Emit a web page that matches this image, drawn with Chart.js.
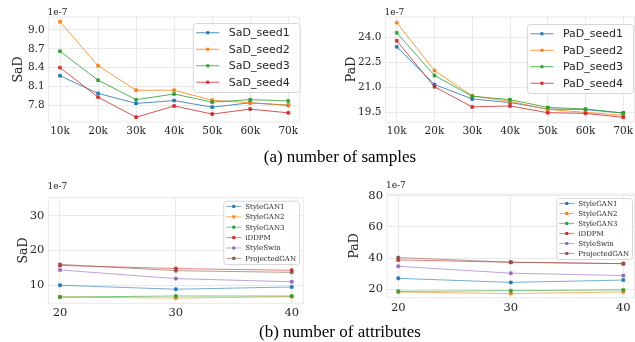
<!DOCTYPE html>
<html>
<head>
<meta charset="utf-8">
<script src="https://cdn.jsdelivr.net/npm/chart.js@4.4.1/dist/chart.umd.min.js"></script>
<style>
    body { margin: 0; width: 635px; height: 342px; overflow: hidden; background: #fff; position: relative; }
    canvas { position: absolute; }
    .caption { position: absolute; left: 0; width: 680px; text-align: center; font: 17px 'Liberation Serif', serif; line-height: 20px; color: #000; }
</style>
</head>
<body>
<canvas id="sadSamples" width="318" height="145" style="left:0;top:0"></canvas>
<canvas id="padSamples" width="340" height="145" style="left:318px;top:0"></canvas>
<canvas id="sadAttrs" width="318" height="170" style="left:0;top:160px"></canvas>
<canvas id="padAttrs" width="340" height="170" style="left:318px;top:160px"></canvas>
<div class="caption" style="top:147px">(a) number of samples</div>
<div class="caption" style="top:322px">(b) number of attributes</div>
<script>
'use strict';

// (a) number of samples, in thousands
const samples = [10, 20, 30, 40, 50, 60, 70];
const sadSeed1 = [8.27, 7.99, 7.83, 7.875, 7.77, 7.84, 7.80];
const sadSeed2 = [9.13, 8.43, 8.04, 8.04, 7.88, 7.84, 7.80];
const sadSeed3 = [8.66, 8.20, 7.89, 7.98, 7.85, 7.89, 7.87];
const sadSeed4 = [8.40, 7.93, 7.61, 7.79, 7.66, 7.74, 7.68];
const padSeed1 = [23.46, 21.18, 20.31, 20.09, 19.70, 19.67, 19.46];
const padSeed2 = [24.91, 22.02, 20.49, 20.17, 19.68, 19.50, 19.32];
const padSeed3 = [24.30, 21.72, 20.47, 20.27, 19.80, 19.70, 19.46];
const padSeed4 = [23.82, 21.04, 19.83, 19.89, 19.48, 19.44, 19.20];
const sadSampleTicks = [7.8, 8.1, 8.4, 8.7, 9.0];
const padSampleTicks = [19.5, 21.0, 22.5, 24.0];

// (b) number of attributes
const attrs = [20, 30, 40];
const models = ['StyleGAN1', 'StyleGAN2', 'StyleGAN3', 'iDDPM', 'StyleSwin', 'ProjectedGAN'];
const sadStyleGAN1 = [10.0, 8.85, 9.5];
const sadStyleGAN2 = [6.6, 6.3, 6.7];
const sadStyleGAN3 = [6.6, 6.9, 6.9];
const sadIDDPM = [15.7, 14.8, 14.3];
const sadStyleSwin = [14.4, 11.9, 11.0];
const sadProjectedGAN = [16.0, 14.2, 13.7];
const padStyleGAN1 = [27.0, 24.4, 25.9];
const padStyleGAN2 = [18.3, 17.2, 18.3];
const padStyleGAN3 = [18.7, 19.1, 19.6];
const padIDDPM = [38.8, 37.3, 36.4];
const padStyleSwin = [34.7, 30.3, 28.8];
const padProjectedGAN = [40.3, 37.3, 36.4];
const sadAttrTicks = [10, 20, 30];
const padAttrTicks = [20, 40, 60, 80];

const colors = ['#1f77b4', '#ff7f0e', '#2ca02c', '#d62728', '#9467bd', '#8c564b'];
const gridColor = '#e9e9e9';

const alpha = function (hex, a) {
    const n = parseInt(hex.slice(1), 16);
    return `rgba(${n >> 16}, ${(n >> 8) & 255}, ${n & 255}, ${a})`;
};

const makeSets = function (xs, series, names, lineAlpha) {
    return series.map((ys, i) => ({
        label: names[i],
        data: ys.map((y, j) => ({x: xs[j], y: y})),
        borderColor: alpha(colors[i], lineAlpha),
        backgroundColor: colors[i],
        pointBackgroundColor: colors[i],
        pointBorderColor: colors[i],
        borderWidth: 1,
        pointStyle: 'rect',
        pointRadius: 2.1,
        pointBorderWidth: 0.5,
        order: -i
    }));
};

// frame, offset text and the boxed legend inside the plot
const decor = {
    id: 'decor',
    beforeDatasetsDraw(chart, args, opts) {
        const ctx = chart.ctx, a = chart.chartArea;
        ctx.save();
        ctx.strokeStyle = gridColor;
        ctx.lineWidth = 1;
        ctx.strokeRect(a.left, a.top, a.right - a.left, a.bottom - a.top);
        ctx.fillStyle = '#222';
        ctx.font = '9px "DejaVu Serif"';
        ctx.textBaseline = 'middle';
        ctx.fillText('1e-7', a.left - 1, a.top - opts.offsetY);
        ctx.restore();
    },
    afterDraw(chart, args, opts) {
        const ctx = chart.ctx, a = chart.chartArea;
        const lg = opts.legend;
        const sets = chart.data.datasets;
        ctx.save();
        ctx.font = lg.font;
        let tw = 0;
        sets.forEach(ds => { tw = Math.max(tw, ctx.measureText(ds.label).width); });
        const w = lg.padL + lg.lineLen + lg.gap + tw + lg.padR;
        const h = lg.padT * 2 + sets.length * lg.rowH;
        const x = a.right - lg.right - w, y = a.top + lg.top;
        ctx.beginPath();
        ctx.roundRect(x + 0.5, y + 0.5, w, h, 3);
        ctx.fillStyle = 'rgba(255,255,255,0.85)';
        ctx.fill();
        ctx.strokeStyle = '#d6d6d6';
        ctx.lineWidth = 1;
        ctx.stroke();
        ctx.textBaseline = 'middle';
        sets.forEach((ds, i) => {
            const cy = y + lg.padT + lg.rowH * (i + 0.5);
            const lx = x + lg.padL;
            ctx.strokeStyle = ds.borderColor;
            ctx.beginPath();
            ctx.moveTo(lx, cy);
            ctx.lineTo(lx + lg.lineLen, cy);
            ctx.stroke();
            ctx.fillStyle = ds.pointBackgroundColor;
            ctx.fillRect(lx + lg.lineLen / 2 - 1.5, cy - 1.5, 3, 3);
            ctx.fillStyle = '#262626';
            ctx.fillText(ds.label, lx + lg.lineLen + lg.gap, cy + 0.5);
        });
        ctx.restore();
    }
};

const makeChart = function (id, sets, c) {
    const ctx = document.getElementById(id).getContext('2d');
    return new Chart(ctx, {
        type: 'line',
        data: {datasets: sets},
        plugins: [decor],
        options: {
            responsive: false,
            animation: false,
            devicePixelRatio: 1,
            layout: {padding: c.padding},
            plugins: {
                legend: {display: false},
                tooltip: {enabled: false},
                decor: {offsetY: c.offsetY, legend: c.legend}
            },
            scales: {
                x: {
                    type: 'linear',
                    min: c.xMin,
                    max: c.xMax,
                    afterBuildTicks: (s) => { s.ticks = c.xTicks.map(v => ({value: v})); },
                    afterFit: (s) => { s.height = c.xHeight; },
                    ticks: {
                        callback: c.xFmt,
                        padding: c.xPad,
                        maxRotation: 0,
                        color: '#262626',
                        font: {family: 'DejaVu Serif', size: c.tickSize}
                    },
                    grid: {color: gridColor, drawTicks: false},
                    border: {display: false}
                },
                y: {
                    min: c.yMin,
                    max: c.yMax,
                    afterBuildTicks: (s) => { s.ticks = c.yTicks.map(v => ({value: v})); },
                    afterFit: (s) => { s.width = c.yWidth; },
                    ticks: {
                        callback: c.yFmt,
                        padding: 4,
                        color: '#262626',
                        font: {family: 'DejaVu Serif', size: c.tickSize}
                    },
                    grid: {color: gridColor, drawTicks: false},
                    border: {display: false},
                    title: {
                        display: true,
                        text: c.title,
                        color: '#222',
                        padding: {top: c.titlePad, bottom: 0},
                        font: {family: 'DejaVu Serif', size: 12.5}
                    }
                }
            }
        }
    });
};

const topLegend = {font: '11px "DejaVu Sans"', padL: 3.5, lineLen: 23, gap: 9.5, padR: 10, padT: 1.5, rowH: 16.5};
const bottomLegend = {font: '7px "DejaVu Serif"', padL: 3, lineLen: 15, gap: 4, padR: 3, padT: 0.5};
const kFmt = (v) => v + 'k';
const oneDec = (v) => v.toFixed(1);
const intFmt = (v) => String(v);

const init = function () {
    makeChart('sadSamples',
        makeSets(samples, [sadSeed1, sadSeed2, sadSeed3, sadSeed4], ['SaD_seed1', 'SaD_seed2', 'SaD_seed3', 'SaD_seed4'], 0.8),
        {
            padding: {top: 17, right: 18.3, left: 0, bottom: 0}, yWidth: 48.6, xHeight: 23,
            xMin: 7, xMax: 73, xTicks: samples, xFmt: kFmt, xPad: 3,
            yMin: 7.534, yMax: 9.206, yTicks: sadSampleTicks, yFmt: oneDec,
            tickSize: 10.5, title: 'SaD', titlePad: 11, offsetY: 4.5,
            legend: Object.assign({right: 0, top: 6}, topLegend)
        });
    makeChart('padSamples',
        makeSets(samples, [padSeed1, padSeed2, padSeed3, padSeed4], ['PaD_seed1', 'PaD_seed2', 'PaD_seed3', 'PaD_seed4'], 0.8),
        {
            padding: {top: 17, right: 23.4, left: 0, bottom: 0}, yWidth: 67.4, xHeight: 23,
            xMin: 7, xMax: 73, xTicks: samples, xFmt: kFmt, xPad: 3,
            yMin: 18.92, yMax: 25.25, yTicks: padSampleTicks, yFmt: oneDec,
            tickSize: 10.5, title: 'PaD', titlePad: 26.5, offsetY: 4,
            legend: Object.assign({right: 1.6, top: 7}, topLegend)
        });
    makeChart('sadAttrs',
        makeSets(attrs, [sadStyleGAN1, sadStyleGAN2, sadStyleGAN3, sadIDDPM, sadStyleSwin, sadProjectedGAN], models, 0.6),
        {
            padding: {top: 37.7, right: 14.7, left: 0, bottom: 0}, yWidth: 48.4, xHeight: 26.7,
            xMin: 19, xMax: 41, xTicks: attrs, xFmt: intFmt, xPad: 3,
            yMin: 4.8, yMax: 35.2, yTicks: sadAttrTicks, yFmt: intFmt,
            tickSize: 11.5, title: 'SaD', titlePad: 16, offsetY: 10.6,
            legend: Object.assign({right: 4.3, top: 3, rowH: 10.4}, bottomLegend)
        });
    makeChart('padAttrs',
        makeSets(attrs, [padStyleGAN1, padStyleGAN2, padStyleGAN3, padIDDPM, padStyleSwin, padProjectedGAN], models, 0.6),
        {
            padding: {top: 34, right: 23.4, left: 0, bottom: 0}, yWidth: 69, xHeight: 32.3,
            xMin: 19, xMax: 41, xTicks: attrs, xFmt: intFmt, xPad: 3,
            yMin: 14.6, yMax: 81, yTicks: padAttrTicks, yFmt: intFmt,
            tickSize: 11.5, title: 'PaD', titlePad: 29, offsetY: 8.3,
            legend: Object.assign({right: 2.6, top: 4, rowH: 10}, bottomLegend)
        });
};

document.addEventListener('DOMContentLoaded', function () {
    init();
});
</script>
</body>
</html>
